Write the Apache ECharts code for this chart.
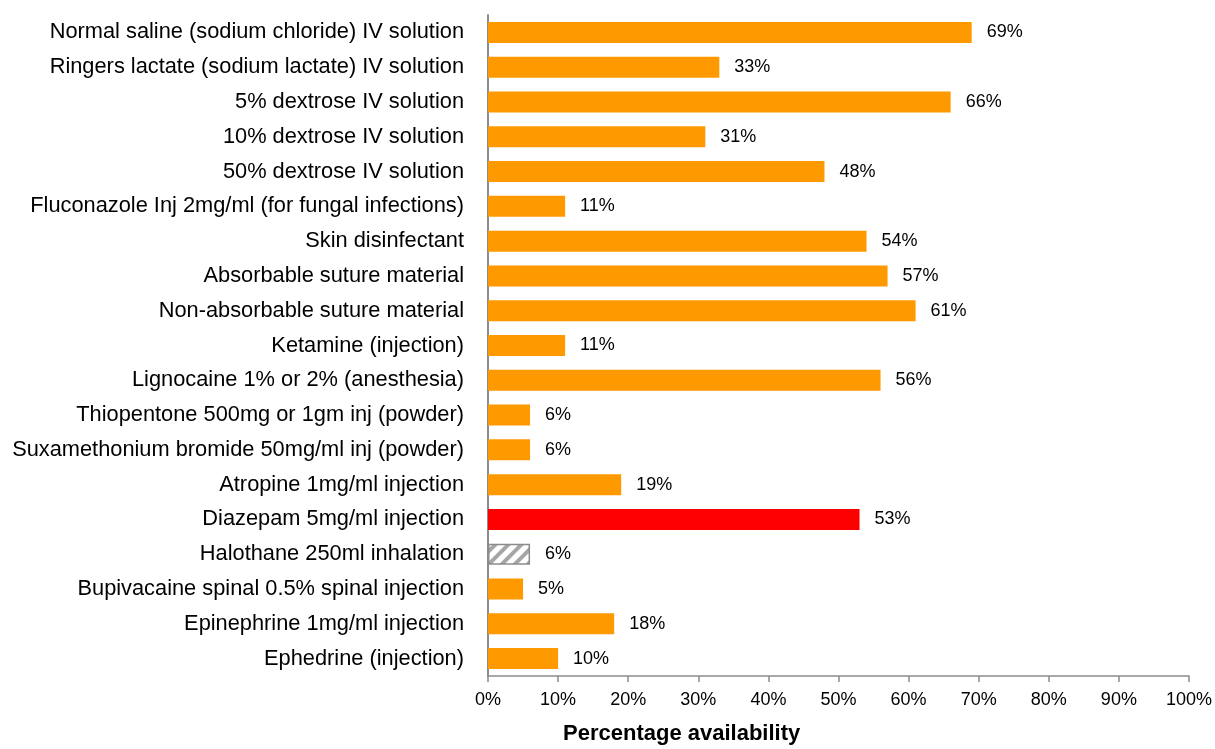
<!DOCTYPE html>
<html>
<head>
<meta charset="utf-8">
<title></title>
<script src="https://cdn.jsdelivr.net/npm/echarts@6/dist/echarts.min.js"></script>
</head>
<body style="margin:0;">
<div id="chart" style="width:1215px;height:749px;"></div>
<script type="text/javascript">
var categories = [
	'Normal saline (sodium chloride) IV solution',
	'Ringers lactate (sodium lactate) IV solution',
	'5% dextrose IV solution',
	'10% dextrose IV solution',
	'50% dextrose IV solution',
	'Fluconazole Inj 2mg/ml (for fungal infections)',
	'Skin disinfectant',
	'Absorbable suture material',
	'Non-absorbable suture material',
	'Ketamine (injection)',
	'Lignocaine 1% or 2% (anesthesia)',
	'Thiopentone 500mg or 1gm inj (powder)',
	'Suxamethonium bromide 50mg/ml inj (powder)',
	'Atropine 1mg/ml injection',
	'Diazepam 5mg/ml injection',
	'Halothane 250ml inhalation',
	'Bupivacaine spinal 0.5% spinal injection',
	'Epinephrine 1mg/ml injection',
	'Ephedrine (injection)'
];
var values = [69, 33, 66, 31, 48, 11, 54, 57, 61, 11, 56, 6, 6, 19, 53, 6, 5, 18, 10];
// 0 = normal, 1 = highlighted, 2 = hatched
var barKind = [0, 0, 0, 0, 0, 0, 0, 0, 0, 0, 0, 0, 0, 0, 1, 2, 0, 0, 0];
var tickLabels = ['0%', '10%', '20%', '30%', '40%', '50%', '60%', '70%', '80%', '90%', '100%'];

// hatch pattern for the grey striped bar
function makeHatch() {
	var c = document.createElement('canvas');
	c.width = 13;
	c.height = 13;
	var ctx = c.getContext('2d');
	ctx.fillStyle = '#ffffff';
	ctx.fillRect(0, 0, 13, 13);
	ctx.strokeStyle = '#a6a6a6';
	ctx.lineWidth = 4;
	ctx.beginPath();
	for (var k = -1; k <= 1; k++) {
		ctx.moveTo(k * 13 - 2, 15);
		ctx.lineTo(k * 13 + 15, -2);
	}
	ctx.stroke();
	return c;
}
var hatch = makeHatch();

var data = values.map(function (v, i) {
	var item = { value: v };
	if (barKind[i] === 1) {
		item.itemStyle = { color: '#ff0000' };
	} else if (barKind[i] === 2) {
		item.itemStyle = {
			color: { image: hatch, repeat: 'repeat' },
			borderColor: '#8c8c8c',
			borderWidth: 1.5
		};
	}
	return item;
});

var myChart = echarts.init(document.getElementById('chart'));
var option = {
	animation: false,
	grid: {
		left: 488,
		right: 24,
		top: 15,
		bottom: 73
	},
	// axis title sits left of the axis centre in the original
	graphic: [{
		type: 'text',
		left: 563,
		top: 723,
		style: {
			text: 'Percentage availability',
			fontFamily: 'Liberation Sans',
			fontSize: 22,
			fontWeight: 'bold',
			fill: '#000'
		}
	}],
	xAxis: {
		type: 'value',
		min: 0,
		max: 100,
		interval: 10,
		axisLine: { show: true, lineStyle: { color: '#8c8c8c', width: 1.5 } },
		axisTick: { show: true, length: 6, lineStyle: { color: '#8c8c8c', width: 1.5 } },
		axisLabel: {
			margin: 15,
			fontFamily: 'Liberation Sans',
			fontSize: 18,
			color: '#000',
			formatter: function (v) {
				return tickLabels[Math.round(v / 10)];
			}
		},
		splitLine: { show: false }
	},
	yAxis: {
		type: 'category',
		data: categories,
		inverse: true,
		axisLine: { show: true, lineStyle: { color: '#8c8c8c', width: 2 } },
		axisTick: { show: false },
		axisLabel: {
			margin: 24,
			fontFamily: 'Liberation Sans',
			fontSize: 21.8,
			color: '#000'
		}
	},
	series: [{
		type: 'bar',
		data: data,
		barWidth: 21,
		itemStyle: { color: '#ff9900' },
		label: {
			show: true,
			position: 'right',
			distance: 15,
			fontFamily: 'Liberation Sans',
			fontSize: 18,
			color: '#000',
			formatter: '{c}%'
		}
	}]
};
myChart.setOption(option);
</script>
</body>
</html>
